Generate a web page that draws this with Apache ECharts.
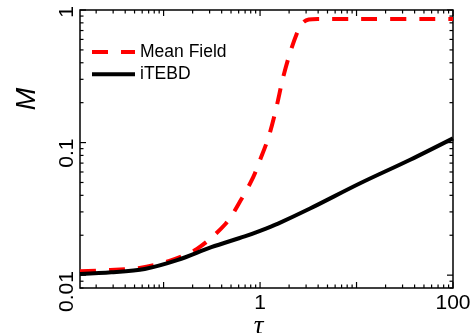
<!DOCTYPE html>
<html>
<head>
<meta charset="utf-8">
<script src="https://cdn.jsdelivr.net/npm/echarts@6/dist/echarts.min.js"></script>
<style>
  html, body { margin: 0; padding: 0; background: #fff; }
  #chart { width: 475px; height: 333px; }
</style>
</head>
<body>
<div id="chart"></div>
<script>
// Magnetisation M versus tau: mean-field result and iTEBD result (log-log)
const tauMeanField = [0.0136, 0.028, 0.0565, 0.113, 0.222, 0.44, 0.646, 0.852, 1.0, 1.22, 1.466, 1.72, 2.08, 2.56, 2.85, 3.2, 4.0, 10, 100];
const mMeanField   = [0.0107, 0.01094, 0.01134, 0.01274, 0.01579, 0.0244, 0.0378, 0.0551, 0.074, 0.1087, 0.1795, 0.303, 0.494, 0.741, 0.815, 0.847, 0.855, 0.856, 0.856];

const tauITEBD = [0.0136, 0.0287, 0.0637, 0.141, 0.3126, 0.693, 1.0, 1.537, 3.3, 10.9, 36, 100];
const mITEBD   = [0.0102, 0.0105, 0.01114, 0.01303, 0.01625, 0.0196, 0.0216, 0.0245, 0.0318, 0.0493, 0.0742, 0.1076];

// Axis ranges and labelled ticks
const xMin = 0.0136, xMax = 100;
const yMin = 0.008, yMax = 1;
const xLabelValues = [1, 100];
const xLabelTexts  = ['1', '100'];
const yLabelValues = [0.01, 0.1, 1];
const yLabelTexts  = ['0.01', '0.1', '1'];

const FONT = '"Liberation Sans", Arial, sans-serif';
const TICK_FONT_SIZE = 21;

function labelIndex(values, v) {
  for (let i = 0; i < values.length; i++) {
    if (Math.abs(Math.log10(v) - Math.log10(values[i])) < 1e-6) return i;
  }
  return -1;
}

// Rotated y labels hang just below their tick: each one gets its own rich
// style whose right padding pushes the glyphs so the text ends 4px past the tick.
const measureCtx = document.createElement('canvas').getContext('2d');
measureCtx.font = TICK_FONT_SIZE + 'px ' + FONT;
const yRich = {};
yLabelTexts.forEach((t, i) => {
  const w = measureCtx.measureText(t).width;
  yRich['y' + i] = { fontFamily: FONT, fontSize: TICK_FONT_SIZE, color: '#000', padding: [0, Math.max(0, w - 8), 0, 0] };
});

// Major (decade) and minor (2..9 x decade) tick positions inside the range
function logTicks(lo, hi) {
  const out = [];
  for (let e = Math.floor(Math.log10(lo)); e <= Math.ceil(Math.log10(hi)); e++) {
    for (let m = 1; m <= 9; m++) {
      const v = m * Math.pow(10, e);
      if (v >= lo * 0.9999 && v <= hi * 1.0001) out.push([v, m === 1 ? 1 : 0]);
    }
  }
  return out;
}

const tickData = [];
logTicks(xMin, xMax).forEach(t => tickData.push([t[0], yMin, t[1], 0]));
logTicks(yMin, yMax).forEach(t => tickData.push([xMin, t[0], t[1], 1]));

function renderTick(params, api) {
  const v = api.value(0), w = api.value(1), major = api.value(2) === 1, dir = api.value(3);
  const len = major ? 6 : 3.5;
  const style = { stroke: '#000', lineWidth: 1.2 };
  let a, b;
  if (dir === 0) {
    a = api.coord([v, yMin]); b = api.coord([v, yMax]);
    return { type: 'group', children: [
      { type: 'line', shape: { x1: a[0], y1: a[1], x2: a[0], y2: a[1] - len }, style },
      { type: 'line', shape: { x1: b[0], y1: b[1], x2: b[0], y2: b[1] + len }, style }
    ]};
  }
  a = api.coord([xMin, w]); b = api.coord([xMax, w]);
  return { type: 'group', children: [
    { type: 'line', shape: { x1: a[0], y1: a[1], x2: a[0] + len, y2: a[1] }, style },
    { type: 'line', shape: { x1: b[0], y1: b[1], x2: b[0] - len, y2: b[1] }, style }
  ]};
}

const chart = echarts.init(document.getElementById('chart'), null, { renderer: 'canvas' });

chart.setOption({
  animation: false,
  backgroundColor: '#fff',
  grid: {
    left: 80, right: 22, top: 10, bottom: 45,
    outerBoundsMode: 'none', containLabel: false,
    show: true, borderColor: '#000', borderWidth: 1.5, backgroundColor: 'transparent'
  },
  legend: {
    orient: 'vertical',
    left: 85, top: 38,
    itemWidth: 43, itemHeight: 14, itemGap: 4.3,
    data: ['Mean Field', 'iTEBD'],
    lineStyle: { width: 4 },
    itemStyle: { opacity: 0, color: 'transparent', borderWidth: 0 },
    textStyle: { fontFamily: FONT, fontSize: 17.5, color: '#000', lineHeight: 18 }
  },
  xAxis: {
    type: 'log', logBase: 10, min: xMin, max: xMax,
    name: 'τ', nameLocation: 'middle', nameGap: 25, nameMoveOverlap: false,
    nameTextStyle: { fontFamily: '"Liberation Serif", serif', fontStyle: 'italic', fontSize: 27, color: '#000', padding: [0, 16, 0, 0] },
    axisLine: { show: false },
    axisTick: { show: false },
    splitLine: { show: false },
    axisLabel: {
      formatter: v => { const i = labelIndex(xLabelValues, v); return i < 0 ? '' : xLabelTexts[i]; },
      fontFamily: FONT, fontSize: TICK_FONT_SIZE, color: '#000', margin: 5, showMinLabel: true, showMaxLabel: true
    }
  },
  yAxis: {
    type: 'log', logBase: 10, min: yMin, max: yMax,
    axisLine: { show: false },
    axisTick: { show: false },
    splitLine: { show: false },
    axisLabel: {
      formatter: v => { const i = labelIndex(yLabelValues, v); return i < 0 ? '' : '{y' + i + '|' + yLabelTexts[i] + '}'; },
      rich: yRich, rotate: 90, align: 'center',
      fontFamily: FONT, fontSize: TICK_FONT_SIZE, color: '#000', margin: 2, showMinLabel: true, showMaxLabel: true
    }
  },
  graphic: [{
    type: 'text', x: 27, y: 99, rotation: Math.PI / 2,
    style: { text: 'M', textAlign: 'center', textVerticalAlign: 'middle', font: 'italic 27px "Liberation Sans", Arial, sans-serif', fill: '#000' }
  }],
  series: [
    {
      type: 'custom', name: 'ticks', z: 1, silent: true, clip: false,
      renderItem: renderTick, data: tickData
    },
    {
      name: 'Mean Field', type: 'line', z: 2,
      data: tauMeanField.map((t, i) => [t, mMeanField[i]]),
      showSymbol: false, symbol: 'none', smooth: 0.3,
      lineStyle: { color: '#ff0000', width: 4, type: [16, 13] },
      itemStyle: { color: '#ff0000' }
    },
    {
      name: 'iTEBD', type: 'line', z: 3,
      data: tauITEBD.map((t, i) => [t, mITEBD[i]]),
      showSymbol: false, symbol: 'none', smooth: 0.3,
      lineStyle: { color: '#000', width: 4 },
      itemStyle: { color: '#000' }
    }
  ]
});
</script>
</body>
</html>
